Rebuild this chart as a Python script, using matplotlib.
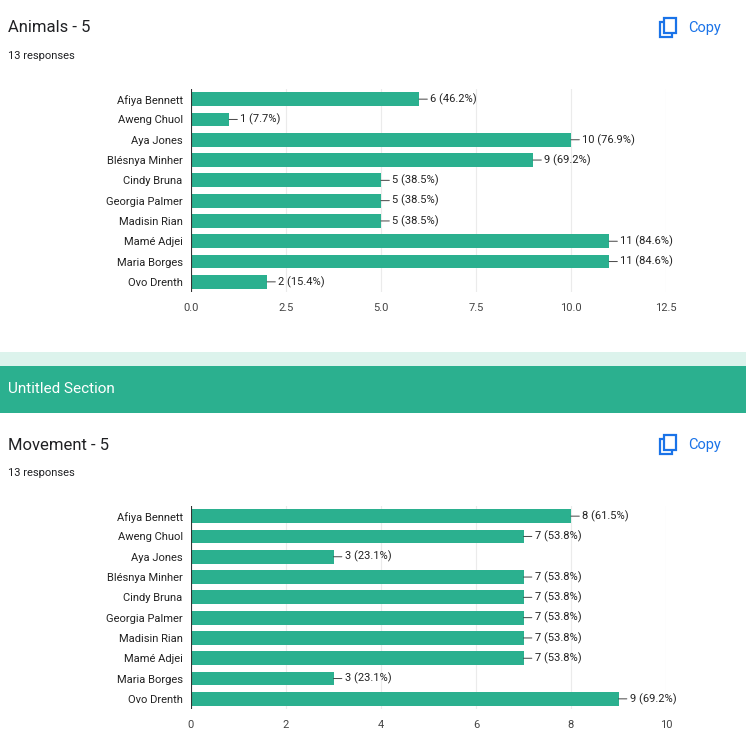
import matplotlib.pyplot as plt
from matplotlib.patches import Rectangle

plt.rcParams['font.family'] = ['Roboto', 'DejaVu Sans']

names = ["Afiya Bennett", "Aweng Chuol", "Aya Jones", "Blésnya Minher", "Cindy Bruna",
         "Georgia Palmer", "Madisin Rian", "Mamé Adjei", "Maria Borges", "Ovo Drenth"]
animals = [6, 1, 10, 9, 5, 5, 5, 11, 11, 2]
movement = [8, 7, 3, 7, 7, 7, 7, 7, 3, 9]
total = 13

bar_color = "#2bb08f"
blue = "#1a73e8"

fig = plt.figure(figsize=(7.46, 7.5), dpi=100)
W, H = 746, 750


def px(x, y):
    return x / W, 1 - y / H


def chart(top, values, xmax, ticks, ticklabels, title):
    ax = fig.add_axes([191 / W, 1 - (top + 203) / H, 475 / W, 203 / H])
    y = list(range(len(names)))
    ax.barh(y, values, height=0.68, color=bar_color, zorder=2)
    for yi, v in zip(y, values):
        ax.annotate(f"{v} ({v / total * 100:.1f}%)", xy=(v, yi), xytext=(8, 0),
                    textcoords="offset points", va="center", ha="left", fontsize=8,
                    color="#222222",
                    arrowprops=dict(arrowstyle="-", color="#444444", lw=0.7,
                                    shrinkA=0, shrinkB=0))
    ax.set_ylim(len(names) - 0.5, -0.5)
    ax.set_xlim(0, xmax)
    ax.set_yticks(y)
    ax.set_yticklabels(names, fontsize=8, color="#222222")
    ax.set_xticks(ticks)
    ax.set_xticklabels(ticklabels, fontsize=8, color="#444444")
    ax.grid(axis="x", color="#ebebeb", lw=0.8, zorder=0)
    for s in ax.spines.values():
        s.set_visible(False)
    ax.tick_params(length=0, pad=6)
    ax.tick_params(axis="x", pad=8)
    ax.axvline(0, color="#333333", lw=0.8, zorder=3)
    # header
    tx, ty = px(8, top - 61)
    fig.text(tx, ty, title, fontsize=12, color="#202124", va="center")
    tx, ty = px(8, top - 33)
    fig.text(tx, ty, "13 responses", fontsize=8, color="#202124", va="center")
    # copy icon
    ix, iy = px(660, top - 52)
    fig.patches.append(Rectangle((ix, iy), 12 / W, 15 / H, fill=False,
                                 ec=blue, lw=1.6, transform=fig.transFigure))
    ix, iy = px(664, top - 56)
    fig.patches.append(Rectangle((ix, iy), 12 / W, 15 / H, fc="white",
                                 ec=blue, lw=1.6, transform=fig.transFigure))
    tx, ty = px(688, top - 61)
    fig.text(tx, ty, "Copy", fontsize=10.5, color=blue, va="center")


chart(89, animals, 12.5, [0, 2.5, 5, 7.5, 10, 12.5],
      ["0.0", "2.5", "5.0", "7.5", "10.0", "12.5"], "Animals - 5")
chart(506, movement, 10, [0, 2, 4, 6, 8, 10],
      ["0", "2", "4", "6", "8", "10"], "Movement - 5")

# section divider
fig.patches.append(Rectangle(px(0, 366), 1, 14 / H, fc="#dcf3ec", ec="none",
                             transform=fig.transFigure))
fig.patches.append(Rectangle(px(0, 413), 1, 47 / H, fc=bar_color, ec="none",
                             transform=fig.transFigure))
tx, ty = px(8, 389)
fig.text(tx, ty, "Untitled Section", fontsize=11, color="white", va="center")

fig.savefig("out.png", dpi=100)
